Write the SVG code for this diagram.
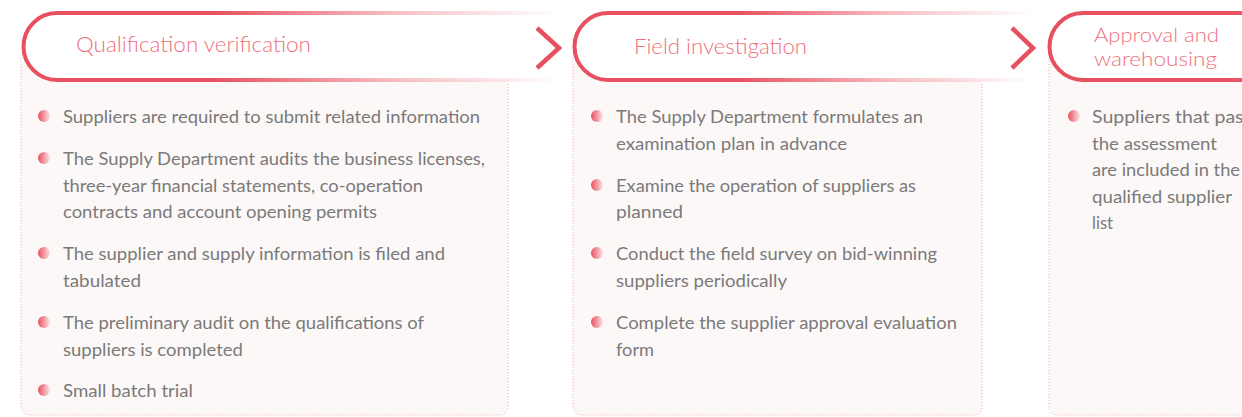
<svg xmlns="http://www.w3.org/2000/svg" width="1242" height="417" viewBox="0 0 1242 417">
<defs>
<linearGradient id="hg" x1="0" y1="0" x2="1" y2="0">
<stop offset="0" stop-color="#e8505f"/>
<stop offset="0.35" stop-color="#e8505f"/>
<stop offset="0.7" stop-color="#e8505f" stop-opacity="0.35"/>
<stop offset="1" stop-color="#e8505f" stop-opacity="0"/>
</linearGradient>
<linearGradient id="bg" x1="0" y1="0" x2="1" y2="0">
<stop offset="0" stop-color="#e8505f"/>
<stop offset="1" stop-color="#fbe3e5"/>
</linearGradient>
<style>
.panel{fill:#fdf8f8;stroke:none}
.border{fill:none;stroke:#f0a0a8;stroke-width:1;stroke-dasharray:1 2}
.hline{fill:none;stroke:url(#hg);stroke-width:4}
.hfill{fill:#ffffff}
.chev{fill:none;stroke:#e8505f;stroke-width:4.5}
.title{font-family:Lato,"Liberation Sans",sans-serif;font-weight:300;font-size:22px;fill:#ef6f7c}
.title2{font-family:Lato,"Liberation Sans",sans-serif;font-weight:300;font-size:20.5px;fill:#ef6f7c}
.body{font-family:Lato,"Liberation Sans",sans-serif;font-weight:400;font-size:18px;fill:#7a7a7a}
.dot{fill:url(#bg)}
</style>
</defs>
<rect width="1242" height="417" fill="#ffffff"/>

<g id="stage1">
<rect class="panel" x="21" y="58" width="487" height="357" rx="9"/>
<path class="border" d="M21,58 V406 Q21,415 30,415 H499 Q508,415 508,406 V82"/>
<path class="hfill" d="M560,13 H57 A33.5,33.5 0 0 0 57,80 H560 Z"/>
<path class="hline" d="M560,13 H57 A33.5,33.5 0 0 0 57,80 H560"/>
<text class="title" x="76" y="52" textLength="235" lengthAdjust="spacingAndGlyphs">Qualification verification</text>
<circle class="dot" cx="44" cy="116" r="6"/>
<text class="body" x="63" y="123" textLength="417" lengthAdjust="spacingAndGlyphs">Suppliers are required to submit related information</text>
<circle class="dot" cx="44" cy="158" r="6"/>
<text class="body" x="63" y="165" textLength="422" lengthAdjust="spacingAndGlyphs">The Supply Department audits the business licenses,</text>
<text class="body" x="63" y="191.5" textLength="360" lengthAdjust="spacingAndGlyphs">three-year financial statements, co-operation</text>
<text class="body" x="63" y="218" textLength="314" lengthAdjust="spacingAndGlyphs">contracts and account opening permits</text>
<circle class="dot" cx="44" cy="253" r="6"/>
<text class="body" x="63" y="260" textLength="382" lengthAdjust="spacingAndGlyphs">The supplier and supply information is filed and</text>
<text class="body" x="63" y="286.5" textLength="78" lengthAdjust="spacingAndGlyphs">tabulated</text>
<circle class="dot" cx="44" cy="322" r="6"/>
<text class="body" x="63" y="329" textLength="361" lengthAdjust="spacingAndGlyphs">The preliminary audit on the qualifications of</text>
<text class="body" x="63" y="355.5" textLength="180" lengthAdjust="spacingAndGlyphs">suppliers is completed</text>
<circle class="dot" cx="44" cy="390" r="6"/>
<text class="body" x="63" y="397" textLength="130" lengthAdjust="spacingAndGlyphs">Small batch trial</text>
</g>

<g id="stage2">
<rect class="panel" x="573" y="58" width="409" height="357" rx="9"/>
<path class="border" d="M573,58 V406 Q573,415 582,415 H973 Q982,415 982,406 V82"/>
<path class="hfill" d="M1035,13 H608 A33.5,33.5 0 0 0 608,80 H1035 Z"/>
<path class="hline" d="M1035,13 H608 A33.5,33.5 0 0 0 608,80 H1035"/>
<text class="title" x="634" y="54" textLength="173" lengthAdjust="spacingAndGlyphs">Field investigation</text>
<circle class="dot" cx="597" cy="116" r="6"/>
<text class="body" x="616" y="123" textLength="307" lengthAdjust="spacingAndGlyphs">The Supply Department formulates an</text>
<text class="body" x="616" y="149.5" textLength="231" lengthAdjust="spacingAndGlyphs">examination plan in advance</text>
<circle class="dot" cx="597" cy="185" r="6"/>
<text class="body" x="616" y="192" textLength="300" lengthAdjust="spacingAndGlyphs">Examine the operation of suppliers as</text>
<text class="body" x="616" y="218" textLength="67" lengthAdjust="spacingAndGlyphs">planned</text>
<circle class="dot" cx="597" cy="253" r="6"/>
<text class="body" x="616" y="260" textLength="321" lengthAdjust="spacingAndGlyphs">Conduct the field survey on bid-winning</text>
<text class="body" x="616" y="286.5" textLength="171" lengthAdjust="spacingAndGlyphs">suppliers periodically</text>
<circle class="dot" cx="597" cy="322" r="6"/>
<text class="body" x="616" y="329" textLength="341" lengthAdjust="spacingAndGlyphs">Complete the supplier approval evaluation</text>
<text class="body" x="616" y="355.5" textLength="38" lengthAdjust="spacingAndGlyphs">form</text>
</g>

<g id="stage3">
<rect class="panel" x="1049" y="58" width="220" height="357" rx="9"/>
<path class="border" d="M1049,58 V406 Q1049,415 1058,415 H1260"/>
<path class="hfill" d="M1560,13 H1083 A33.5,33.5 0 0 0 1083,80 H1560 Z"/>
<path class="hline" d="M1560,13 H1083 A33.5,33.5 0 0 0 1083,80 H1560"/>
<text class="title2" x="1094" y="42" textLength="125" lengthAdjust="spacingAndGlyphs">Approval and</text>
<text class="title2" x="1094" y="66" textLength="123" lengthAdjust="spacingAndGlyphs">warehousing</text>
<circle class="dot" cx="1074" cy="116" r="6"/>
<text class="body" x="1092" y="123" textLength="160" lengthAdjust="spacingAndGlyphs">Suppliers that pass</text>
<text class="body" x="1092" y="149.5" textLength="125" lengthAdjust="spacingAndGlyphs">the assessment</text>
<text class="body" x="1092" y="176" textLength="148" lengthAdjust="spacingAndGlyphs">are included in the</text>
<text class="body" x="1092" y="202.5" textLength="140" lengthAdjust="spacingAndGlyphs">qualified supplier</text>
<text class="body" x="1092" y="229" textLength="21" lengthAdjust="spacingAndGlyphs">list</text>
</g>

<g id="connectors">
<polyline class="chev" points="537,28 559,48 537,68"/>
<polyline class="chev" points="1012,28 1033,48 1012,68"/>
</g>
</svg>
